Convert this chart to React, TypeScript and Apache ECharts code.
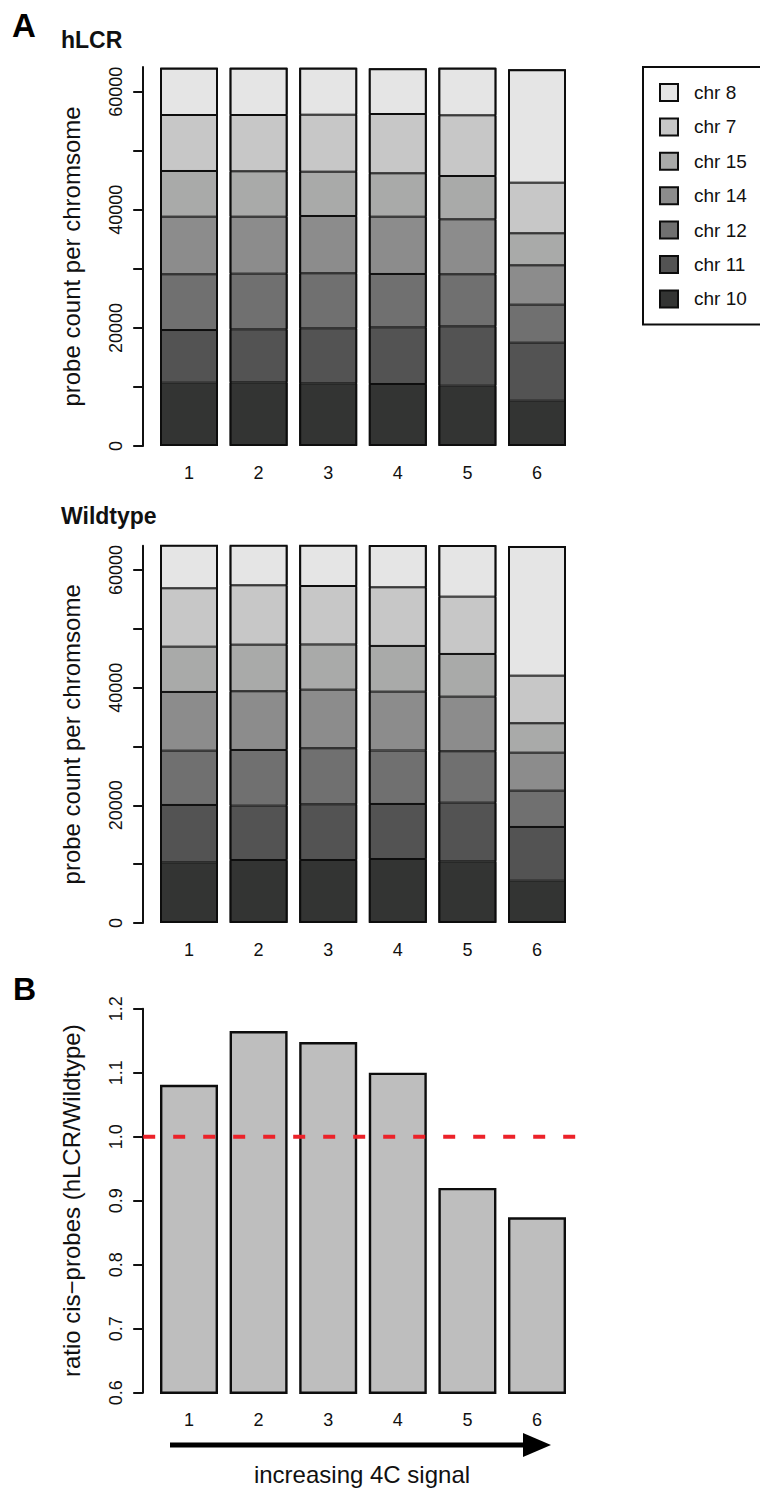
import React, { useEffect, useRef } from "react";
import * as echarts from "echarts";

// ---------- data ----------
const categories = ["1", "2", "3", "4", "5", "6"];
const chromosomes = ["chr 10", "chr 11", "chr 12", "chr 14", "chr 15", "chr 7", "chr 8"];
const legendOrder = ["chr 8", "chr 7", "chr 15", "chr 14", "chr 12", "chr 11", "chr 10"];
const chrColors = ["#333433", "#535353", "#707070", "#8c8c8c", "#a9aaa9", "#c7c7c7", "#e5e5e5"];

// hLCR probe counts per chromosome (bars 1..6)
const hlcrChr10 = [10720, 10790, 10620, 10500, 10210, 7670];
const hlcrChr11 = [8920, 8970, 9310, 9600, 10060, 9820];
const hlcrChr12 = [9440, 9420, 9320, 9030, 8810, 6440];
const hlcrChr14 = [9750, 9650, 9700, 9700, 9310, 6670];
const hlcrChr15 = [7740, 7690, 7500, 7350, 7330, 5420];
const hlcrChr7 = [9480, 9530, 9650, 10040, 10280, 8570];
const hlcrChr8 = [8020, 8020, 7970, 7740, 8070, 19200];

// Wildtype probe counts per chromosome (bars 1..6)
const wtChr10 = [10320, 10710, 10710, 10880, 10490, 7190];
const wtChr11 = [9740, 9230, 9470, 9350, 9960, 9130];
const wtChr12 = [9230, 9470, 9520, 9090, 8740, 6170];
const wtChr14 = [9980, 9980, 9960, 10000, 9280, 6460];
const wtChr15 = [7700, 7920, 7680, 7770, 7260, 5000];
const wtChr7 = [9920, 10090, 9940, 9970, 9740, 8090];
const wtChr8 = [7480, 6970, 7090, 7190, 8780, 22040];

// ratio of cis-probes hLCR / Wildtype
const ratioValues = [1.081, 1.165, 1.148, 1.1, 0.92, 0.874];
const referenceRatio = 1.0;

// tick values
const countTicks = [0, 10000, 20000, 30000, 40000, 50000, 60000];
const countLabels = [0, 20000, 40000, 60000];
const ratioTicks = [0.6, 0.7, 0.8, 0.9, 1.0, 1.1, 1.2];

const hlcrSeries = [hlcrChr10, hlcrChr11, hlcrChr12, hlcrChr14, hlcrChr15, hlcrChr7, hlcrChr8];
const wtSeries = [wtChr10, wtChr11, wtChr12, wtChr14, wtChr15, wtChr7, wtChr8];

const FONT = "'Liberation Sans', Arial, Helvetica, sans-serif";
const EDGE = "#0d0d0d";

const totalsOf = (rows: number[][]) =>
  categories.map((_, j) => rows.reduce((s, r) => s + r[j], 0));

export default function App() {
  const ref = useRef<HTMLDivElement>(null);

  useEffect(() => {
    if (!ref.current) return;
    const chart = echarts.init(ref.current, undefined, { renderer: "svg" });

    const gridLeft = 154.2;
    const gridWidth = 417.6;
    const axisOffset = 11;

    const xAxisCommon = {
      type: "category" as const,
      data: categories,
      axisLine: { show: false },
      axisTick: { show: false },
      axisLabel: { fontSize: 18, color: "#111", fontFamily: FONT, margin: 18 },
    };

    const countAxis = (max: number, name: string, gridIndex: number) => ({
      type: "value" as const,
      gridIndex,
      min: 0,
      max,
      offset: axisOffset,
      name,
      nameLocation: "middle" as const,
      nameGap: 60,
      nameTextStyle: { fontSize: 24, color: "#111", fontFamily: FONT },
      axisLine: { show: true, lineStyle: { color: "#111", width: 2 } },
      axisTick: { show: true, inside: false, length: 10, lineStyle: { color: "#111", width: 2 }, customValues: countTicks },
      axisLabel: {
        show: true,
        rotate: 90,
        fontSize: 18,
        color: "#111",
        fontFamily: FONT,
        margin: 18,
        customValues: countLabels,
        formatter: (v: number) => String(v),
      },
      splitLine: { show: false },
    });

    const series: any[] = [];
    const addStack = (rows: number[][], stack: string, idx: number) => {
      chromosomes.forEach((c, i) => {
        series.push({
          name: c,
          type: "bar",
          stack,
          xAxisIndex: idx,
          yAxisIndex: idx,
          barWidth: 58,
          data: rows[i],
          itemStyle: { color: chrColors[i], borderColor: EDGE, borderWidth: 1 },
        });
      });
      // outline of the whole bar (drawn on top, no fill)
      series.push({
        name: stack + "-outline",
        type: "bar",
        xAxisIndex: idx,
        yAxisIndex: idx,
        barWidth: 58,
        barGap: "-100%",
        silent: true,
        data: totalsOf(rows),
        itemStyle: { color: "rgba(0,0,0,0)", borderColor: EDGE, borderWidth: 2 },
      });
    };
    addStack(hlcrSeries, "hlcr", 0);
    addStack(wtSeries, "wt", 1);

    series.push({
      name: "ratio",
      type: "bar",
      xAxisIndex: 2,
      yAxisIndex: 2,
      barWidth: 58,
      data: ratioValues,
      itemStyle: { color: "#bebebe", borderColor: EDGE, borderWidth: 2.4 },
    });

    chart.setOption({
      animation: false,
      backgroundColor: "#ffffff",
      textStyle: { fontFamily: FONT },
      grid: [
        { left: gridLeft, width: gridWidth, top: 67, height: 379 },
        { left: gridLeft, width: gridWidth, top: 545.7, height: 377.3 },
        { left: gridLeft, width: gridWidth, top: 1008.7, height: 384 },
      ],
      xAxis: [
        { ...xAxisCommon, gridIndex: 0 },
        { ...xAxisCommon, gridIndex: 1 },
        { ...xAxisCommon, gridIndex: 2 },
      ],
      yAxis: [
        countAxis(64180, "probe count per chromsome", 0),
        countAxis(64130, "probe count per chromsome", 1),
        {
          type: "value",
          gridIndex: 2,
          min: 0.6,
          max: 1.2,
          offset: axisOffset,
          name: "ratio cis\u2212probes (hLCR/Wildtype)",
          nameLocation: "middle",
          nameGap: 60,
          nameTextStyle: { fontSize: 24, color: "#111", fontFamily: FONT },
          axisLine: { show: true, lineStyle: { color: "#111", width: 2 } },
          axisTick: { show: true, inside: false, length: 10, lineStyle: { color: "#111", width: 2 }, customValues: ratioTicks },
          axisLabel: {
            show: true,
            rotate: 90,
            fontSize: 18,
            color: "#111",
            fontFamily: FONT,
            margin: 18,
            customValues: ratioTicks,
            formatter: (v: number) => v.toFixed(1),
          },
          splitLine: { show: false },
        },
      ],
      legend: {
        orient: "vertical",
        left: 643,
        top: 67,
        data: legendOrder,
        icon: "rect",
        itemWidth: 18,
        itemHeight: 17,
        itemGap: 15.4,
        padding: [16, 30, 16, 16],
        borderColor: EDGE,
        borderWidth: 2,
        selectedMode: false,
        itemStyle: { borderColor: EDGE, borderWidth: 2 },
        textStyle: { fontSize: 19, color: "#111", fontFamily: FONT, lineHeight: 17, padding: [0, 0, 0, 11] },
      },
      series,
    });

    const yRef = chart.convertToPixel({ yAxisIndex: 2 }, referenceRatio) as number;

    chart.setOption({
      graphic: [
        {
          type: "text",
          x: 12,
          y: 25,
          style: { text: "A", fontSize: 33, fontWeight: "bold", fontFamily: FONT, fill: "#000", align: "left", verticalAlign: "middle" },
        },
        {
          type: "text",
          x: 61,
          y: 39.5,
          style: { text: "hLCR", fontSize: 23, fontWeight: "bold", fontFamily: FONT, fill: "#111", align: "left", verticalAlign: "middle" },
        },
        {
          type: "text",
          x: 61,
          y: 515.7,
          style: { text: "Wildtype", fontSize: 23, fontWeight: "bold", fontFamily: FONT, fill: "#111", align: "left", verticalAlign: "middle" },
        },
        {
          type: "text",
          x: 13,
          y: 988.5,
          style: { text: "B", fontSize: 32, fontWeight: "bold", fontFamily: FONT, fill: "#000", align: "left", verticalAlign: "middle" },
        },
        {
          type: "line",
          z: 10,
          shape: { x1: gridLeft - axisOffset, y1: yRef, x2: gridLeft + gridWidth + 9, y2: yRef },
          style: { stroke: "#ec2229", lineWidth: 4, lineDash: [12, 18] },
        },
        {
          type: "line",
          shape: { x1: 170, y1: 1445, x2: 528, y2: 1445 },
          style: { stroke: "#000", lineWidth: 5 },
        },
        {
          type: "polygon",
          shape: { points: [[523, 1433], [551, 1445], [523, 1457]] },
          style: { fill: "#000" },
        },
        {
          type: "text",
          x: 362,
          y: 1474,
          style: { text: "increasing 4C signal", fontSize: 24, fontFamily: FONT, fill: "#111", align: "center", verticalAlign: "middle" },
        },
      ],
    });

    return () => chart.dispose();
  }, []);

  return (
    <div
      ref={ref}
      style={{ position: "absolute", left: 0, top: 0, width: 760, height: 1489, background: "#fff" }}
    />
  );
}
